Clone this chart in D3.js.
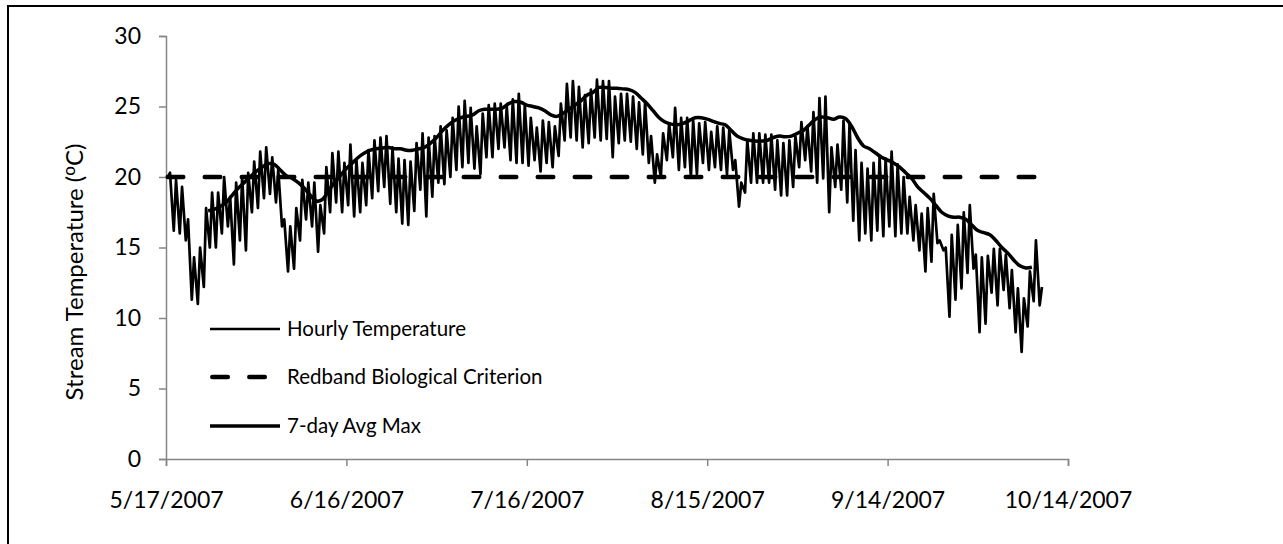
<!DOCTYPE html>
<html>
<head>
<meta charset="utf-8">
<script src="https://cdn.jsdelivr.net/npm/d3@7"></script>
<style>
  html, body { margin: 0; padding: 0; background: #fff; }
  svg { display: block; font-family: Lato, "Open Sans", sans-serif; }
</style>
</head>
<body>
<svg id="chart" width="1283" height="544"></svg>
<script>
// ---- Data -------------------------------------------------------------
// Daily logger readings starting 5/17/2007: overnight low and afternoon high (°C)
const startDate = "2007-05-17";
const lowHour = 7;
const highHour = 16;
const dailyMin = [
  20.0, 16.2, 16.0, 15.5, 11.3, 11.0, 12.2, 15.0, 15.0, 16.0,
  16.5, 13.8, 15.5, 14.8, 17.5, 17.8, 18.5, 18.8, 18.2, 16.5,
  13.3, 13.5, 15.5, 17.0, 16.5, 14.7, 16.0, 17.5, 18.2, 17.5,
  18.0, 17.2, 17.5, 18.0, 18.5, 19.0, 19.3, 18.1, 17.5, 16.7,
  16.6, 17.6, 19.1, 17.2, 18.6, 19.6, 19.5, 20.0, 20.5, 20.7,
  21.0, 20.6, 20.2, 21.4, 21.4, 22.0, 22.1, 21.2, 21.0, 21.0,
  20.8, 21.2, 20.4, 21.0, 20.7, 21.5, 22.6, 22.8, 22.6, 22.1,
  22.4, 22.8, 22.6, 22.7, 21.4, 22.4, 22.6, 22.5, 22.0, 21.6,
  21.0, 19.6, 20.0, 21.2, 21.4, 20.5, 20.7, 20.0, 20.2, 21.0,
  20.5, 20.7, 20.5, 20.2, 20.5, 17.9, 18.9, 19.6, 19.6, 19.6,
  19.6, 19.1, 18.7, 18.7, 19.3, 20.7, 21.2, 20.4, 19.6, 19.9,
  17.5, 19.3, 19.1, 18.2, 16.9, 15.5, 16.0, 15.5, 16.2, 15.8,
  16.5, 15.8, 16.0, 16.0, 15.5, 14.8, 13.3, 14.0, 15.3, 14.8,
  10.1, 11.3, 12.1, 13.2, 13.5, 9.0, 9.6, 11.8, 10.9, 12.0,
  10.7, 9.0, 7.6, 9.4, 11.2, 10.9
];
const dailyMax = [
  20.3, 19.8, 19.3, 17.0, 14.3, 15.0, 17.8, 18.9, 18.9, 20.0,
  18.6, 19.6, 20.0, 20.3, 21.1, 21.8, 22.1, 21.4, 20.5, 17.0,
  16.5, 17.8, 19.8, 19.6, 19.6, 18.0, 20.7, 21.7, 21.8, 21.0,
  22.3, 21.2, 21.0, 21.9, 22.6, 22.8, 22.9, 22.1, 21.3, 21.2,
  21.1, 22.4, 23.1, 22.8, 22.9, 23.6, 23.3, 24.2, 25.0, 25.4,
  24.9, 23.6, 24.5, 25.1, 25.2, 25.2, 25.0, 25.5, 25.9, 25.1,
  24.2, 23.5, 24.0, 23.9, 23.6, 25.2, 26.6, 26.8, 26.4, 25.8,
  26.2, 26.9, 26.8, 26.8, 25.7, 25.9, 25.9, 25.7, 25.3, 25.3,
  22.9, 21.6, 23.1, 23.8, 24.9, 24.2, 24.2, 24.0, 23.8, 23.9,
  23.2, 23.6, 23.5, 23.3, 21.2, 19.6, 22.6, 23.1, 23.1, 23.0,
  23.0, 22.6, 22.4, 22.6, 22.9, 23.9, 23.6, 24.6, 25.6, 25.7,
  22.1, 22.3, 24.0, 23.8, 21.9, 21.0, 20.6, 21.0, 21.4, 21.3,
  21.8, 20.9, 20.0, 18.6, 18.0, 17.4, 17.8, 18.8, 15.5, 15.0,
  15.9, 16.6, 17.5, 18.0, 14.5, 14.3, 14.4, 14.9, 14.9, 14.5,
  13.4, 12.1, 11.4, 13.3, 15.5, 12.2
];

// 7-day average of daily maxima, one value per day from 5/24/2007
const avgStartDate = "2007-05-24";
const avgMax7 = [
  17.6, 17.7, 17.9, 18.2, 18.7, 19.2, 19.6, 20.0, 20.4, 20.7,
  20.95, 20.9, 20.5, 20.1, 19.9, 19.6, 19.2, 18.7, 18.3, 18.4,
  19.0, 19.6, 20.1, 20.6, 21.0, 21.4, 21.7, 21.9, 22.0, 22.05,
  22.1, 22.0, 22.0, 21.9, 21.9, 22.0, 22.1, 22.4, 22.8, 23.3,
  23.7, 24.0, 24.2, 24.3, 24.4, 24.7, 24.8, 24.8, 24.8, 24.9,
  25.2, 25.35, 25.3, 25.1, 25.0, 24.9, 24.7, 24.4, 24.3, 24.5,
  24.8, 25.1, 25.4, 25.8, 26.0, 26.35, 26.35, 26.3, 26.3, 26.25,
  26.2, 26.0, 25.6, 25.2, 24.7, 24.2, 23.9, 23.75, 23.7, 23.8,
  24.0, 24.2, 24.2, 24.1, 23.95, 23.8, 23.7, 23.3, 22.9, 22.7,
  22.6, 22.55, 22.55, 22.6, 22.8, 22.9, 22.85, 22.9, 23.1, 23.3,
  23.7, 24.1, 24.25, 24.2, 24.1, 24.25, 24.15, 23.6, 22.8, 22.2,
  22.0, 21.7, 21.4, 21.2, 21.0, 20.7, 20.3, 19.9, 19.3, 18.9,
  18.5, 18.0, 17.5, 17.25, 17.15, 17.15, 17.0, 16.6, 16.2, 16.05,
  15.9, 15.5, 15.0, 14.6, 14.1, 13.7, 13.55, 13.6
];

// Redband trout biological criterion (°C)
const criterion = 20;

// Axes
const yTicks = [0, 5, 10, 15, 20, 25, 30];
const xTickDates = ["2007-05-17", "2007-06-16", "2007-07-16", "2007-08-15", "2007-09-14", "2007-10-14"];
const yTitleParts = ["Stream Temperature (", "o", "C)"];
const legendLabels = ["Hourly Temperature", "Redband Biological Criterion", "7-day Avg Max"];

// ---- Drawing ----------------------------------------------------------
const parse = d3.utcParse("%Y-%m-%d");
const fmt = d3.utcFormat("%-m/%-d/%Y");
const t0 = parse(startDate);
const tAvg0 = parse(avgStartDate);

const svg = d3.select("#chart");

// outer frame
svg.append("rect")
  .attr("x", 8).attr("y", 6)
  .attr("width", 1300).attr("height", 600)
  .attr("fill", "none").attr("stroke", "#000").attr("stroke-width", 2);

const x = d3.scaleUtc()
  .domain([parse(xTickDates[0]), parse(xTickDates[xTickDates.length - 1])])
  .range([166, 1068]);
const y = d3.scaleLinear().domain([0, 30]).range([459, 36]);

// hourly series: alternating morning low / afternoon high
const hourly = [];
dailyMin.forEach((lo, i) => {
  const day = d3.utcDay.offset(t0, i);
  hourly.push({ t: d3.utcHour.offset(day, lowHour), v: lo });
  hourly.push({ t: d3.utcHour.offset(day, highHour), v: dailyMax[i] });
});
const avgSeries = avgMax7.map((v, i) => ({ t: d3.utcDay.offset(tAvg0, i), v }));
const critSeries = [
  { t: hourly[0].t, v: criterion },
  { t: hourly[hourly.length - 1].t, v: criterion }
];

const axisColor = "#868686";

// y axis
const yAxis = d3.axisLeft(y).tickValues(yTicks).tickSize(7).tickPadding(18);
const gy = svg.append("g").attr("transform", "translate(166,0)").call(yAxis);
gy.select(".domain").attr("stroke", axisColor).attr("stroke-width", 1.5);
gy.selectAll(".tick line").attr("stroke", axisColor).attr("stroke-width", 1.5);
gy.selectAll(".tick text").attr("font-size", 23).attr("fill", "#000")
  .attr("font-family", "Lato, 'Open Sans', sans-serif");

// x axis
const xAxis = d3.axisBottom(x)
  .tickValues(xTickDates.map(parse))
  .tickFormat(fmt)
  .tickSize(7).tickPadding(26);
const gx = svg.append("g").attr("transform", "translate(0,459)").call(xAxis);
gx.select(".domain").attr("stroke", axisColor).attr("stroke-width", 1.5);
gx.selectAll(".tick line").attr("stroke", axisColor).attr("stroke-width", 1.5);
gx.selectAll(".tick text").attr("font-size", 23).attr("fill", "#000")
  .attr("font-family", "Lato, 'Open Sans', sans-serif");

// y axis title
const yt = svg.append("text")
  .attr("transform", "translate(83,272) rotate(-90)")
  .attr("text-anchor", "middle")
  .attr("font-size", 24)
  .attr("fill", "#000");
yt.append("tspan").text(yTitleParts[0]);
yt.append("tspan").attr("font-size", 17).attr("dy", -8).text(yTitleParts[1]);
yt.append("tspan").attr("dy", 8).text(yTitleParts[2]);

const line = d3.line().x(d => x(d.t)).y(d => y(d.v));

// criterion (dashed)
const dash = "15.5,21.5";
svg.append("path")
  .datum(critSeries)
  .attr("d", line)
  .attr("fill", "none").attr("stroke", "#000")
  .attr("stroke-width", 4.5)
  .attr("stroke-linecap", "round")
  .attr("stroke-dasharray", dash);

// hourly temperature
svg.append("path")
  .datum(hourly)
  .attr("d", line)
  .attr("fill", "none").attr("stroke", "#000")
  .attr("stroke-width", 2.7)
  .attr("stroke-linejoin", "round");

// 7-day average maximum
svg.append("path")
  .datum(avgSeries)
  .attr("d", line.curve(d3.curveCatmullRom.alpha(0.5)))
  .attr("fill", "none").attr("stroke", "#000")
  .attr("stroke-width", 3.5)
  .attr("stroke-linejoin", "round");

// legend
const legendY = [329, 377, 426];
const legendStyles = [
  { w: 2.3, dash: null },
  { w: 4.5, dash: dash },
  { w: 3.5, dash: null }
];
const lg = svg.append("g");
legendLabels.forEach((label, i) => {
  const s = legendStyles[i];
  const ln = lg.append("line")
    .attr("x1", s.dash ? 212.3 : 210).attr("x2", 280)
    .attr("y1", legendY[i]).attr("y2", legendY[i])
    .attr("stroke", "#000").attr("stroke-width", s.w);
  if (s.dash) ln.attr("stroke-dasharray", s.dash).attr("stroke-linecap", "round");
  lg.append("text")
    .attr("x", 287).attr("y", legendY[i])
    .attr("dy", "0.36em")
    .attr("font-size", 20.5)
    .attr("fill", "#000")
    .text(label);
});
</script>
</body>
</html>
